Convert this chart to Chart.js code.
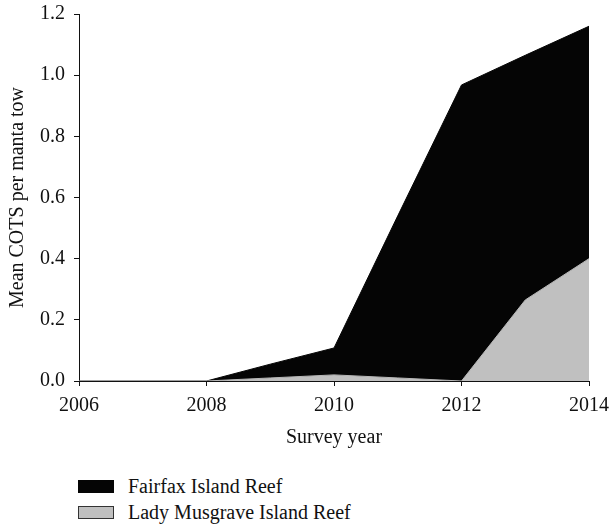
<!DOCTYPE html>
<html>
<head>
<meta charset="utf-8">
<script src="https://cdn.jsdelivr.net/npm/chart.js@4.4.0/dist/chart.umd.min.js"></script>
<style>
  body{margin:0;background:#fff;width:610px;height:527px;overflow:hidden;font-family:"Liberation Serif","DejaVu Serif",serif;}
  #box{position:absolute;left:0;top:-7px;width:617px;height:461px;}
  #legenda{position:absolute;left:78px;top:473px;font-size:20px;color:#111;}
  .voce{height:26px;line-height:26px;display:flex;align-items:center;}
  .quadrato{width:36px;height:13px;margin-right:14px;box-sizing:border-box;}
</style>
</head>
<body>
<div id="box"><canvas id="grafico"></canvas></div>
<div id="legenda"></div>
<script>
// dati
var anni = [2006, 2007, 2008, 2009, 2010, 2011, 2012, 2013, 2014];
var fairfax = [0, 0, 0, 0.055, 0.108, 0.54, 0.968, 1.065, 1.16];
var ladyMusgrave = [0, 0, 0, 0.01, 0.02, 0.01, 0, 0.265, 0.40];
var nomiSerie = ["Fairfax Island Reef", "Lady Musgrave Island Reef"];
var tickAnni = [2006, 2008, 2010, 2012, 2014];

var font = "'Liberation Serif', 'DejaVu Serif', serif";

function punti(valori){
    let lista = [];
    for(let i=0; i<anni.length; i++){
        lista.push({x: anni[i], y: valori[i]});
    }
    return lista;
}

window.onload = function(){
    let canvas = document.getElementById("grafico");
    // Lady Musgrave per primo cosi' viene disegnato sopra
    let grafico = new Chart(canvas, {
        type: 'line',
        data: {
            datasets: [
                {
                    label: nomiSerie[1],
                    data: punti(ladyMusgrave),
                    backgroundColor: '#c0c0c0',
                    borderColor: '#b8b8b8',
                    borderWidth: 1,
                    fill: 'origin',
                    pointRadius: 0,
                    tension: 0
                },
                {
                    label: nomiSerie[0],
                    data: punti(fairfax),
                    backgroundColor: '#050505',
                    borderColor: '#050505',
                    borderWidth: 1,
                    fill: 'origin',
                    pointRadius: 0,
                    tension: 0
                }
            ]
        },
        options: {
            responsive: true,
            maintainAspectRatio: false,
            animation: false,
            layout: {padding: {left: 0, top: 1, right: 0, bottom: 0}},
            plugins: {legend: {display: false}, tooltip: {enabled: false}},
            scales: {
                x: {
                    type: 'linear',
                    min: 2006, max: 2014,
                    afterBuildTicks: function(asse){
                        asse.ticks = tickAnni.map(v => ({value: v}));
                    },
                    ticks: {
                        color: '#111',
                        font: {family: font, size: 20},
                        padding: 8,
                        maxRotation: 0,
                        callback: function(v){ return String(v); }
                    },
                    grid: {display: true, drawOnChartArea: false, tickLength: 5, color: '#111'},
                    border: {display: true, color: '#111', width: 1},
                    title: {display: true, text: 'Survey year', color: '#111', font: {family: font, size: 20}, padding: {top: 0, bottom: 4}}
                },
                y: {
                    min: 0, max: 1.2,
                    ticks: {
                        stepSize: 0.2,
                        color: '#111',
                        font: {family: font, size: 20},
                        padding: 9,
                        callback: function(v){ return v.toFixed(1); }
                    },
                    grid: {display: true, drawOnChartArea: false, tickLength: 5, color: '#111'},
                    border: {display: true, color: '#111', width: 1},
                    title: {display: true, text: 'Mean COTS per manta tow', color: '#111', font: {family: font, size: 20}, padding: {top: 6, bottom: 1}}
                }
            }
        }
    });

    // legenda costruita a mano, in verticale
    let _legenda = document.getElementById("legenda");
    let colori = [['#050505', '#050505'], ['#c0c0c0', '#333']];
    let html = "";
    for(let i=0; i<nomiSerie.length; i++){
        html += `<div class="voce"><div class="quadrato" style="background:${colori[i][0]};border:1px solid ${colori[i][1]}"></div>${nomiSerie[i]}</div>`;
    }
    _legenda.innerHTML = html;
};
</script>
</body>
</html>
